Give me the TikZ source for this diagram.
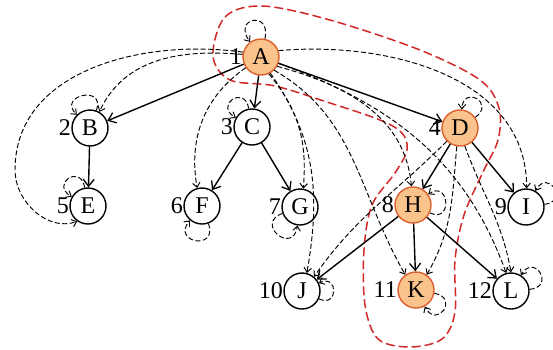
\documentclass[tikz,border=0pt]{standalone}
\usepackage{fontspec}
\setmainfont{Liberation Serif}
\usetikzlibrary{arrows.meta}
\definecolor{hotfill}{RGB}{250,195,140}
\definecolor{hotdraw}{RGB}{220,95,45}
\definecolor{redloop}{RGB}{210,40,40}
\begin{document}
\begin{tikzpicture}[
  every label/.style={font=\fontsize{24}{24}\selectfont,inner sep=0.3pt},
  vtx/.style={circle,draw,line width=1.4pt,minimum size=36pt,inner sep=0pt,font=\fontsize{24}{24}\selectfont},
  hot/.style={vtx,fill=hotfill,draw=hotdraw},
  tree/.style={-{Straight Barb[length=7pt,width=11pt,line width=1.3pt]},line width=1.4pt},
  reach/.style={-{Straight Barb[length=4.5pt,width=7.5pt]},line width=0.95pt,dash pattern=on 5pt off 2.5pt},
  region/.style={redloop,line width=1.5pt,dash pattern=on 9pt off 4pt}]
\useasboundingbox (0,0) rectangle (553pt,-349pt);
\begin{scope}[x=1pt,y=1pt]
% red region
\draw[region] plot[smooth cycle,tension=0.55] coordinates {
 (213,-56) (225,-17) (262,-6) (330,-20) (420,-50) (480,-80) (499,-108) (498,-140)
 (483,-172) (464,-215) (455,-260) (455,-312) (442,-339) (410,-347) (378,-339) (365,-305)
 (364,-250) (372,-205) (395,-173) (407,-150) (402,-133) (380,-120) (330,-103) (275,-86) (230,-80)};

\node[hot,label=left:1] (A) at (261,-57) {A};
\node[vtx,label=left:2] (B) at (90,-128) {B};
\node[vtx,label=left:3] (C) at (252,-127) {C};
\node[hot,label=left:4] (D) at (460,-128) {D};
\node[vtx,label=left:5] (E) at (88,-206) {E};
\node[vtx,label=left:6] (F) at (202,-206) {F};
\node[vtx,label=left:7] (G) at (300,-207) {G};
\node[hot,label=left:8] (H) at (413,-205) {H};
\node[vtx,label=left:9] (I) at (526,-207) {I};
\node[vtx,label=left:10] (J) at (302,-291) {J};
\node[hot,label=left:11] (K) at (416,-290) {K};
\node[vtx,label=left:12] (L) at (511,-291) {L};
\coordinate (wE) at (15,-170);

% tree edges
\draw[tree] (A) -- (B);
\draw[tree] (A) -- (C);
\draw[tree] (A) -- (D);
\draw[tree] (B) -- (E);
\draw[tree] (C) -- (F);
\draw[tree] (C) -- (G);
\draw[tree] (D) -- (H);
\draw[tree] (D) -- (I);
\draw[tree] (H) -- (J);
\draw[tree] (H) -- (K);
\draw[tree] (H) -- (L);

% reachability edges
\draw[reach] (A.172) to[out=175,in=65] (B.60);
\draw[reach] (A.165) to[out=172,in=90] (wE) to[out=-90,in=200] (E.235);
\draw[reach] (A.215) to[out=215,in=100] (F.105);
\draw[reach] (A.295) to[out=-50,in=85] (G.80);
\draw[reach] (A.330) to[out=-15,in=95] (H.95);
\draw[reach] (A.20) to[out=5,in=90] (I.88);
\draw[reach] (A.300) to[out=-55,in=80] (J.75);
\draw[reach] (A.315) to[out=-30,in=120] (K.125);
\draw[reach] (A.340) to[out=-20,in=110] (L.105);
\draw[reach] (D.225) to[out=225,in=55] (J.50);
\draw[reach] (D.260) to[out=-95,in=60] (K.55);
\draw[reach] (D.285) to[out=-70,in=100] (L.90);

% self loops
\draw[reach] (A.78) to[out=78,in=126,looseness=5] (A.126);
\draw[reach] (B.70) to[out=70,in=135,looseness=3.5] (B.135);
\draw[reach] (C.100) to[out=100,in=150,looseness=4] (C.150);
\draw[reach] (D.35) to[out=35,in=85,looseness=4] (D.85);
\draw[reach] (E.100) to[out=100,in=150,looseness=4] (E.150);
\draw[reach] (F.-70) to[out=-70,in=-130,looseness=4] (F.-130);
\draw[reach] (G.200) to[out=200,in=262,looseness=4] (G.262);
\draw[reach] (H.-25) to[out=-25,in=35,looseness=3.5] (H.35);
\draw[reach] (I.8) to[out=8,in=60,looseness=4] (I.60);
\draw[reach] (J.-25) to[out=-25,in=25,looseness=3.5] (J.25);
\draw[reach] (K.-10) to[out=-10,in=-62,looseness=4] (K.-62);
\draw[reach] (L.5) to[out=5,in=58,looseness=4] (L.58);
\end{scope}
\end{tikzpicture}
\end{document}
